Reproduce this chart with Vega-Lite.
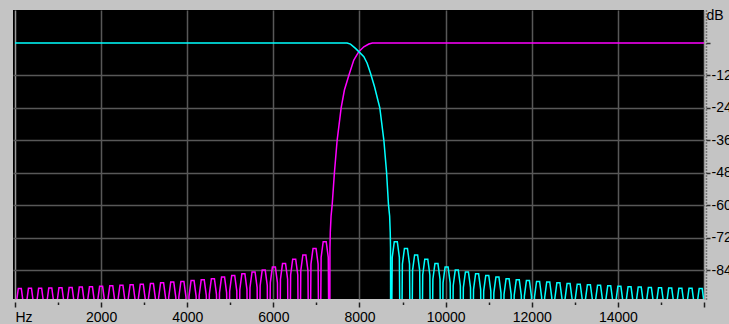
{
 "$schema": "https://vega.github.io/schema/vega-lite/v6.json",
 "width": 691,
 "height": 289,
 "autosize": {"type": "none"},
 "padding": {"left": 13, "top": 10, "right": 25, "bottom": 25},
 "background": "#c4c4c4",
 "config": {"view": {"fill": "#000000", "stroke": null}, "font": "Liberation Sans"},
 "datasets": {
  "m": [
   {"f":-6,"d":-150},{"f":29,"d":-96.6},{"f":77,"d":-90.8},{"f":147,"d":-90.8},{"f":195,"d":-96.6},
   {"f":230,"d":-150},{"f":265,"d":-96.5},{"f":313,"d":-90.7},{"f":383,"d":-90.7},{"f":431,"d":-96.5},
   {"f":466,"d":-150},{"f":501,"d":-96.5},{"f":549,"d":-90.7},{"f":619,"d":-90.7},{"f":667,"d":-96.5},
   {"f":702,"d":-150},{"f":737,"d":-96.4},{"f":785,"d":-90.6},{"f":855,"d":-90.6},{"f":903,"d":-96.4},
   {"f":938,"d":-150},{"f":973,"d":-96.3},{"f":1021,"d":-90.5},{"f":1091,"d":-90.5},{"f":1139,"d":-96.3},
   {"f":1174,"d":-150},{"f":1209,"d":-96.2},{"f":1257,"d":-90.4},{"f":1327,"d":-90.4},{"f":1375,"d":-96.2},
   {"f":1410,"d":-150},{"f":1445,"d":-96.1},{"f":1493,"d":-90.3},{"f":1563,"d":-90.3},{"f":1611,"d":-96.1},
   {"f":1646,"d":-150},{"f":1681,"d":-96.0},{"f":1729,"d":-90.2},{"f":1799,"d":-90.2},{"f":1847,"d":-96.0},
   {"f":1882,"d":-150},{"f":1917,"d":-95.8},{"f":1965,"d":-90.0},{"f":2035,"d":-90.0},{"f":2083,"d":-95.8},
   {"f":2118,"d":-150},{"f":2153,"d":-95.6},{"f":2201,"d":-89.8},{"f":2271,"d":-89.8},{"f":2319,"d":-95.6},
   {"f":2354,"d":-150},{"f":2389,"d":-95.4},{"f":2437,"d":-89.6},{"f":2507,"d":-89.6},{"f":2555,"d":-95.4},
   {"f":2590,"d":-150},{"f":2625,"d":-95.2},{"f":2673,"d":-89.4},{"f":2743,"d":-89.4},{"f":2791,"d":-95.2},
   {"f":2826,"d":-150},{"f":2861,"d":-95.0},{"f":2909,"d":-89.2},{"f":2979,"d":-89.2},{"f":3027,"d":-95.0},
   {"f":3062,"d":-150},{"f":3097,"d":-94.8},{"f":3145,"d":-89.0},{"f":3215,"d":-89.0},{"f":3263,"d":-94.8},
   {"f":3298,"d":-150},{"f":3333,"d":-94.5},{"f":3381,"d":-88.7},{"f":3451,"d":-88.7},{"f":3499,"d":-94.5},
   {"f":3534,"d":-150},{"f":3569,"d":-94.2},{"f":3617,"d":-88.4},{"f":3687,"d":-88.4},{"f":3735,"d":-94.2},
   {"f":3770,"d":-150},{"f":3805,"d":-94.0},{"f":3853,"d":-88.2},{"f":3923,"d":-88.2},{"f":3971,"d":-94.0},
   {"f":4006,"d":-150},{"f":4041,"d":-93.7},{"f":4089,"d":-87.9},{"f":4159,"d":-87.9},{"f":4207,"d":-93.7},
   {"f":4242,"d":-150},{"f":4277,"d":-93.4},{"f":4325,"d":-87.6},{"f":4395,"d":-87.6},{"f":4443,"d":-93.4},
   {"f":4478,"d":-150},{"f":4513,"d":-93.0},{"f":4561,"d":-87.2},{"f":4631,"d":-87.2},{"f":4679,"d":-93.0},
   {"f":4714,"d":-150},{"f":4749,"d":-92.4},{"f":4797,"d":-86.6},{"f":4867,"d":-86.6},{"f":4915,"d":-92.4},
   {"f":4950,"d":-150},{"f":4985,"d":-91.8},{"f":5033,"d":-86.0},{"f":5103,"d":-86.0},{"f":5151,"d":-91.8},
   {"f":5186,"d":-150},{"f":5221,"d":-91.2},{"f":5269,"d":-85.4},{"f":5339,"d":-85.4},{"f":5387,"d":-91.2},
   {"f":5422,"d":-150},{"f":5457,"d":-90.5},{"f":5505,"d":-84.7},{"f":5575,"d":-84.7},{"f":5623,"d":-90.5},
   {"f":5658,"d":-150},{"f":5693,"d":-89.8},{"f":5741,"d":-84.0},{"f":5811,"d":-84.0},{"f":5859,"d":-89.8},
   {"f":5894,"d":-150},{"f":5929,"d":-88.7},{"f":5977,"d":-82.9},{"f":6047,"d":-82.9},{"f":6095,"d":-88.7},
   {"f":6130,"d":-150},{"f":6165,"d":-87.4},{"f":6213,"d":-81.6},{"f":6283,"d":-81.6},{"f":6331,"d":-87.4},
   {"f":6366,"d":-150},{"f":6401,"d":-85.8},{"f":6449,"d":-80.0},{"f":6519,"d":-80.0},{"f":6567,"d":-85.8},
   {"f":6602,"d":-150},{"f":6637,"d":-84.2},{"f":6685,"d":-78.4},{"f":6755,"d":-78.4},{"f":6803,"d":-84.2},
   {"f":6838,"d":-150},{"f":6873,"d":-81.8},{"f":6921,"d":-76.0},{"f":6991,"d":-76.0},{"f":7039,"d":-81.8},
   {"f":7074,"d":-150},{"f":7109,"d":-79.3},{"f":7157,"d":-73.5},{"f":7227,"d":-73.5},{"f":7275,"d":-79.3},
   {"f":7310,"d":-150},{"f":7314,"d":-76},{"f":7322,"d":-70},{"f":7340,"d":-64},{"f":7365,"d":-60},
   {"f":7419,"d":-47.7},{"f":7481,"d":-36},{"f":7574,"d":-24},{"f":7650,"d":-17.4},{"f":7752,"d":-12},
   {"f":7868,"d":-6.3},{"f":7984,"d":-3.2},{"f":8101,"d":-1.4},{"f":8217,"d":-0.4},{"f":8300,"d":0},
   {"f":16000,"d":0}
  ],
  "c": [
   {"f":0,"d":0},{"f":7713,"d":0},{"f":7791,"d":-0.4},{"f":7907,"d":-2},{"f":7984,"d":-3.2},
   {"f":8101,"d":-5.1},{"f":8178,"d":-7.5},{"f":8256,"d":-11.2},{"f":8349,"d":-16.2},{"f":8426,"d":-21.1},
   {"f":8472,"d":-24},{"f":8566,"d":-36},{"f":8628,"d":-47.7},{"f":8674,"d":-60},{"f":8700,"d":-64},
   {"f":8714,"d":-70},{"f":8721,"d":-76},
   {"f":8725,"d":-150},{"f":8760,"d":-79.3},{"f":8808,"d":-73.5},{"f":8878,"d":-73.5},{"f":8926,"d":-79.3},
   {"f":8961,"d":-150},{"f":8996,"d":-81.8},{"f":9044,"d":-76.0},{"f":9114,"d":-76.0},{"f":9162,"d":-81.8},
   {"f":9197,"d":-150},{"f":9232,"d":-84.2},{"f":9280,"d":-78.4},{"f":9350,"d":-78.4},{"f":9398,"d":-84.2},
   {"f":9433,"d":-150},{"f":9468,"d":-85.8},{"f":9516,"d":-80.0},{"f":9586,"d":-80.0},{"f":9634,"d":-85.8},
   {"f":9669,"d":-150},{"f":9704,"d":-87.4},{"f":9752,"d":-81.6},{"f":9822,"d":-81.6},{"f":9870,"d":-87.4},
   {"f":9905,"d":-150},{"f":9940,"d":-88.7},{"f":9988,"d":-82.9},{"f":10058,"d":-82.9},{"f":10106,"d":-88.7},
   {"f":10141,"d":-150},{"f":10176,"d":-89.8},{"f":10224,"d":-84.0},{"f":10294,"d":-84.0},{"f":10342,"d":-89.8},
   {"f":10377,"d":-150},{"f":10412,"d":-90.5},{"f":10460,"d":-84.7},{"f":10530,"d":-84.7},{"f":10578,"d":-90.5},
   {"f":10613,"d":-150},{"f":10648,"d":-91.2},{"f":10696,"d":-85.4},{"f":10766,"d":-85.4},{"f":10814,"d":-91.2},
   {"f":10849,"d":-150},{"f":10884,"d":-91.8},{"f":10932,"d":-86.0},{"f":11002,"d":-86.0},{"f":11050,"d":-91.8},
   {"f":11085,"d":-150},{"f":11120,"d":-92.4},{"f":11168,"d":-86.6},{"f":11238,"d":-86.6},{"f":11286,"d":-92.4},
   {"f":11321,"d":-150},{"f":11356,"d":-93.0},{"f":11404,"d":-87.2},{"f":11474,"d":-87.2},{"f":11522,"d":-93.0},
   {"f":11557,"d":-150},{"f":11592,"d":-93.4},{"f":11640,"d":-87.6},{"f":11710,"d":-87.6},{"f":11758,"d":-93.4},
   {"f":11793,"d":-150},{"f":11828,"d":-93.7},{"f":11876,"d":-87.9},{"f":11946,"d":-87.9},{"f":11994,"d":-93.7},
   {"f":12029,"d":-150},{"f":12064,"d":-94.0},{"f":12112,"d":-88.2},{"f":12182,"d":-88.2},{"f":12230,"d":-94.0},
   {"f":12265,"d":-150},{"f":12300,"d":-94.2},{"f":12348,"d":-88.4},{"f":12418,"d":-88.4},{"f":12466,"d":-94.2},
   {"f":12501,"d":-150},{"f":12536,"d":-94.5},{"f":12584,"d":-88.7},{"f":12654,"d":-88.7},{"f":12702,"d":-94.5},
   {"f":12737,"d":-150},{"f":12772,"d":-94.8},{"f":12820,"d":-89.0},{"f":12890,"d":-89.0},{"f":12938,"d":-94.8},
   {"f":12973,"d":-150},{"f":13008,"d":-95.0},{"f":13056,"d":-89.2},{"f":13126,"d":-89.2},{"f":13174,"d":-95.0},
   {"f":13209,"d":-150},{"f":13244,"d":-95.2},{"f":13292,"d":-89.4},{"f":13362,"d":-89.4},{"f":13410,"d":-95.2},
   {"f":13445,"d":-150},{"f":13480,"d":-95.4},{"f":13528,"d":-89.6},{"f":13598,"d":-89.6},{"f":13646,"d":-95.4},
   {"f":13681,"d":-150},{"f":13716,"d":-95.6},{"f":13764,"d":-89.8},{"f":13834,"d":-89.8},{"f":13882,"d":-95.6},
   {"f":13917,"d":-150},{"f":13952,"d":-95.8},{"f":14000,"d":-90.0},{"f":14070,"d":-90.0},{"f":14118,"d":-95.8},
   {"f":14153,"d":-150},{"f":14188,"d":-96.0},{"f":14236,"d":-90.2},{"f":14306,"d":-90.2},{"f":14354,"d":-96.0},
   {"f":14389,"d":-150},{"f":14424,"d":-96.1},{"f":14472,"d":-90.3},{"f":14542,"d":-90.3},{"f":14590,"d":-96.1},
   {"f":14625,"d":-150},{"f":14660,"d":-96.2},{"f":14708,"d":-90.4},{"f":14778,"d":-90.4},{"f":14826,"d":-96.2},
   {"f":14861,"d":-150},{"f":14896,"d":-96.3},{"f":14944,"d":-90.5},{"f":15014,"d":-90.5},{"f":15062,"d":-96.3},
   {"f":15097,"d":-150},{"f":15132,"d":-96.4},{"f":15180,"d":-90.6},{"f":15250,"d":-90.6},{"f":15298,"d":-96.4},
   {"f":15333,"d":-150},{"f":15368,"d":-96.5},{"f":15416,"d":-90.7},{"f":15486,"d":-90.7},{"f":15534,"d":-96.5},
   {"f":15569,"d":-150},{"f":15604,"d":-96.5},{"f":15652,"d":-90.7},{"f":15722,"d":-90.7},{"f":15770,"d":-96.5},
   {"f":15805,"d":-150},{"f":15840,"d":-96.6},{"f":15888,"d":-90.8},{"f":15958,"d":-90.8},{"f":16006,"d":-96.6},
   {"f":16041,"d":-150}
  ]
 },
 "encoding": {
  "x": {
   "field": "f", "type": "quantitative",
   "scale": {"domain": [-46, 16000], "nice": false, "zero": false},
   "axis": {
    "orient": "bottom", "title": null,
    "values": [0,1000,2000,3000,4000,5000,6000,7000,8000,9000,10000,11000,12000,13000,14000,15000,16000],
    "offset": 3, "domain": false,
    "tickColor": "#202020", "tickWidth": 1.5,
    "tickSize": {"condition": {"test": "datum.value % 2000 != 0", "value": 2.5}, "value": 5},
    "format": "d",
    "labelExpr": "datum.value == 0 ? 'Hz' : (datum.value % 2000 == 0 && datum.value < 16000 ? datum.label : '')",
    "labelAlign": {"condition": {"test": "datum.value == 0", "value": "left"}, "value": "center"},
    "labelFontSize": 14, "labelColor": "#000000", "labelPadding": 3, "labelOverlap": false,
    "grid": true, "gridWidth": 1.5,
    "gridColor": {"condition": {"test": "datum.value == 0 || datum.value == 16000", "value": "#9a9a9a"}, "value": "#585858"},
    "gridOpacity": {"condition": {"test": "datum.value % 2000 != 0", "value": 0}, "value": 1}
   }
  },
  "y": {
   "field": "d", "type": "quantitative",
   "scale": {"domain": [-94.7, 12.2], "nice": false, "zero": false},
   "axis": {
    "orient": "right", "title": null,
    "values": [-84,-72,-60,-48,-36,-24,-12,0,10],
    "offset": 2, "domain": true, "domainColor": "#303030", "domainDash": [1,2], "domainWidth": 1.5,
    "tickColor": "#303030", "tickSize": 4, "tickWidth": 1.5,
    "tickOpacity": {"condition": {"test": "datum.value == 10", "value": 0}, "value": 1},
    "labelExpr": "datum.value == 10 ? 'dB' : (datum.value == 0 ? '' : '-' + abs(datum.value))",
    "labelFontSize": 14, "labelColor": "#000000", "labelAlign": "left", "labelBaseline": "middle",
    "labelPadding": {"condition": {"test": "datum.value == 10", "value": -4}, "value": 1},
    "labelOverlap": false,
    "grid": true, "gridWidth": 1.5, "gridColor": "#585858",
    "gridOpacity": {"condition": {"test": "datum.value == 0 || datum.value == 10", "value": 0}, "value": 1}
   }
  }
 },
 "layer": [
  {"data": {"name": "m"}, "mark": {"type": "line", "color": "#ff00ff", "strokeWidth": 1.5, "clip": true}},
  {"data": {"name": "c"}, "mark": {"type": "line", "color": "#00ffff", "strokeWidth": 1.5, "clip": true}}
 ]
}
